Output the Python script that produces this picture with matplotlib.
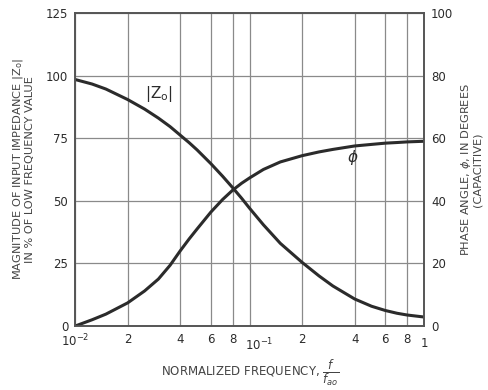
import numpy as np
import matplotlib
matplotlib.use('Agg')
import matplotlib.pyplot as plt
from matplotlib.ticker import FixedLocator, NullLocator
from matplotlib.transforms import ScaledTranslation

plt.rcParams['font.family'] = 'DejaVu Sans'
plt.rcParams['font.size'] = 8.5

# values
freq = [0.01, 0.0125, 0.015, 0.02, 0.025, 0.03, 0.035, 0.04, 0.045, 0.05,
        0.06, 0.07, 0.08, 0.09, 0.1, 0.12, 0.15, 0.2, 0.25, 0.3,
        0.4, 0.5, 0.6, 0.7, 0.8, 1.0]
z_mag = [98.4, 96.6, 94.6, 90.4, 86.6, 83.0, 79.6, 76.2, 73.2, 70.3,
         64.8, 59.8, 55.2, 51.0, 47.0, 40.4, 33.0, 25.4, 20.0, 16.0,
         10.8, 7.9, 6.2, 5.1, 4.4, 3.6]
phase = [0.0, 2.0, 3.8, 7.4, 11.2, 15.0, 19.4, 24.0, 27.8, 31.0,
         36.4, 40.4, 43.4, 45.6, 47.3, 50.0, 52.4, 54.4, 55.6, 56.4,
         57.5, 58.0, 58.4, 58.6, 58.8, 59.0]

xticks = [0.01, 0.02, 0.04, 0.06, 0.08, 0.1, 0.2, 0.4, 0.6, 0.8, 1.0]
xticklabels = [r'$10^{-2}$', '2', '4', '6', '8', r'$10^{-1}$', '2', '4', '6', '8', '1']
left_ticks = [0, 25, 50, 75, 100, 125]
right_ticks = [0, 20, 40, 60, 80, 100]

ink = '#2b2b2b'
gridc = '#8a8a8a'

fig = plt.figure(figsize=(4.88, 3.9), dpi=100)
ax = fig.add_axes([0.154, 0.164, 0.715, 0.803])
ax.set_xscale('log')
ax.set_xlim(0.01, 1.0)
ax.set_ylim(0, 125)

ax.xaxis.set_major_locator(FixedLocator(xticks))
ax.xaxis.set_minor_locator(NullLocator())
ax.set_xticklabels(xticklabels)
ax.set_yticks(left_ticks)
ax.grid(True, color=gridc, lw=0.9)
ax.tick_params(length=0, pad=5, labelsize=8.5, colors=ink)

# nudge 10^-1 and 1 labels like the original lettering
labs = ax.get_xticklabels()
labs[5].set_transform(labs[5].get_transform() + ScaledTranslation(10/100, -4/100, fig.dpi_scale_trans))
labs[10].set_transform(labs[10].get_transform() + ScaledTranslation(0, -4/100, fig.dpi_scale_trans))

ax.plot(freq, z_mag, color=ink, lw=2.2, solid_capstyle='round', solid_joinstyle='round')

ax2 = ax.twinx()
ax2.set_ylim(0, 100)
ax2.set_yticks(right_ticks)
ax2.tick_params(length=0, pad=5, labelsize=8.5, colors=ink)
ax2.plot(freq, phase, color=ink, lw=2.2, solid_capstyle='round', solid_joinstyle='round')

for a in (ax, ax2):
    for s in a.spines.values():
        s.set_color('#555555')
        s.set_linewidth(1.2)

ax.text(0.025, 91, r'$|\mathrm{Z_o}|$', fontsize=11, color=ink)
ax2.text(0.36, 52.5, r'$\phi$', fontsize=11, color=ink)

ax.set_ylabel('MAGNITUDE OF INPUT IMPEDANCE $|\\mathrm{Z_o}|$\nIN % OF LOW FREQUENCY VALUE',
              fontsize=8.2, color='#444444', labelpad=8, linespacing=1.0)
ax2.set_ylabel('PHASE ANGLE, $\\phi$, IN DEGREES\n(CAPACITIVE)',
               fontsize=8.2, color='#444444', labelpad=4, linespacing=1.0)
ax.set_xlabel(r'NORMALIZED FREQUENCY, $\dfrac{f}{f_{ao}}$',
              fontsize=8.5, color='#444444', labelpad=3)

fig.savefig('out.png', dpi=100)
